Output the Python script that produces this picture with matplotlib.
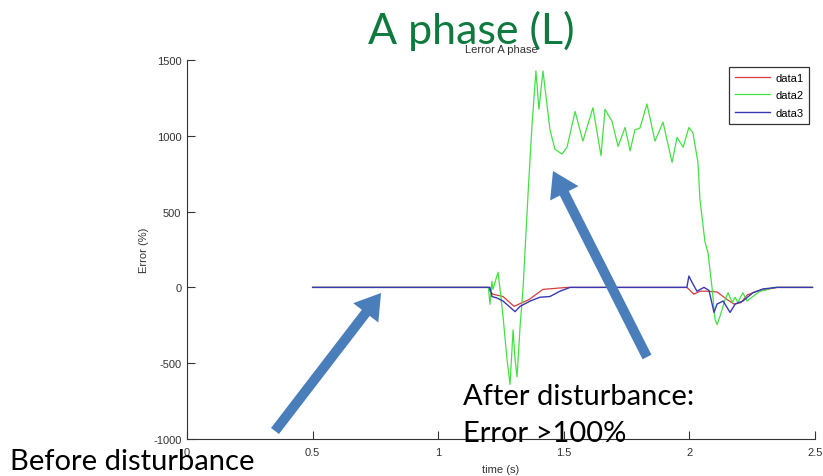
import matplotlib
matplotlib.use("Agg")
import matplotlib.pyplot as plt
from matplotlib.patches import FancyArrowPatch

# ---- data ----
t2 = [0.5, 1.200, 1.206, 1.214, 1.218, 1.238, 1.246, 1.258, 1.274, 1.286, 1.298, 1.306, 1.314,
      1.326, 1.338, 1.358, 1.373, 1.389, 1.401, 1.417, 1.445, 1.465, 1.493, 1.513, 1.545,
      1.576, 1.616, 1.648, 1.664, 1.692, 1.716, 1.744, 1.764, 1.783, 1.803, 1.831, 1.863,
      1.895, 1.931, 1.951, 1.975, 1.998, 2.014, 2.034, 2.042, 2.062, 2.074, 2.090, 2.102,
      2.110, 2.122, 2.142, 2.154, 2.170, 2.182, 2.193, 2.213, 2.229, 2.253, 2.281, 2.309,
      2.333, 2.49]
data2 = [0, 0, -112, 40, -13, 100, -10, -190, -475, -640, -280, -475, -590,
         -255, 0, 625, 1060, 1428, 1175, 1428, 1040, 910, 880, 925, 1160,
         965, 1185, 870, 1175, 1095, 930, 1055, 900, 1040, 1050, 1210, 965,
         1090, 825, 990, 925, 1055, 1020, 825, 580, 300, 230, 0, -210,
         -245, -190, -80, -35, -100, -65, -100, -35, -90, -60, -25, -15,
         0, 0]

t1 = [0.5, 1.202, 1.206, 1.218, 1.258, 1.302, 1.322, 1.362, 1.417, 1.513, 1.99, 2.018,
      2.042, 2.070, 2.110, 2.150, 2.178, 2.206, 2.230, 2.269, 2.349, 2.49]
data1 = [0, 0, -25, -45, -60, -125, -110, -80, -13, 0, 0, -45,
         -25, -25, -30, -80, -110, -100, -50, -25, 0, 0]

t3 = [0.5, 1.206, 1.214, 1.234, 1.258, 1.306, 1.326, 1.366, 1.405, 1.445, 1.485, 1.525,
      1.99, 1.998, 2.010, 2.030, 2.058, 2.078, 2.098, 2.110, 2.134, 2.162, 2.182, 2.213,
      2.253, 2.293, 2.349, 2.49]
data3 = [0, 0, -60, -70, -90, -160, -125, -90, -65, -60, -25, 0,
         0, 75, 35, -25, 0, -20, -165, -110, -90, -165, -110, -90,
         -35, -10, 0, 0]

xticks = [0, 0.5, 1, 1.5, 2, 2.5]
xticklabels = ["0", "0.5", "1", "1.5", "2", "2.5"]
yticks = [-1000, -500, 0, 500, 1000, 1500]
yticklabels = ["-1000", "-500", "0", "500", "1000", "1500"]
series_labels = ["data1", "data2", "data3"]

W, H = 823, 477
fig = plt.figure(figsize=(W / 100, H / 100), dpi=100)
ax = fig.add_axes([187 / W, 1 - 440 / H, (815 - 187) / W, (440 - 61) / H])

ax.plot(t1, data1, color="#d83c3c", lw=0.9, label=series_labels[0])
ax.plot(t2, data2, color="#44e044", lw=0.9, label=series_labels[1])
ax.plot(t3, data3, color="#3838b4", lw=1.0, label=series_labels[2])

ax.set_xlim(0, 2.5)
ax.set_ylim(-1000, 1500)
ax.set_xticks(xticks)
ax.set_xticklabels(xticklabels)
ax.set_yticks(yticks)
ax.set_yticklabels(yticklabels)
ax.tick_params(direction="in", length=6, width=0.8, labelsize=8, labelcolor="#333333",
               colors="#333333")
ax.tick_params(axis="x", pad=6)
ax.tick_params(axis="y", pad=4)
for lbl in ax.get_xticklabels() + ax.get_yticklabels():
    lbl.set_fontfamily("Liberation Sans")
for s in ["top", "right"]:
    ax.spines[s].set_visible(False)
for s in ["left", "bottom"]:
    ax.spines[s].set_color("#333333")
    ax.spines[s].set_linewidth(0.8)

ax.set_xlabel("time (s)", fontsize=8, family="Liberation Sans", color="#333333", labelpad=5)
ax.set_ylabel("Error (%)", fontsize=8, family="Liberation Sans", color="#333333", labelpad=3)
ax.set_title("Lerror A phase", fontsize=8, family="Liberation Sans", color="#333333", pad=6)

leg = ax.legend(loc="upper right",
                prop={"family": "Liberation Sans", "size": 8},
                frameon=True, fancybox=False, edgecolor="black", handlelength=3.2,
                borderpad=0.5, labelspacing=0.7, handletextpad=0.45, borderaxespad=0.0)
leg.set_bbox_to_anchor(((809 - 187) / (815 - 187), 1 - (68 - 61) / (440 - 61)), transform=ax.transAxes)
leg.get_frame().set_linewidth(0.9)

# big slide title
fig.text(471 / W, 1 - 31 / H, "A phase (L)", fontsize=31, color="#0e7a3e",
         family="Lato", ha="center", va="center")

# annotation texts
fig.text(10 / W, 1 - 462 / H, "Before disturbance", fontsize=21, family="Lato",
         ha="left", va="center", color="black")
fig.text(463 / W, 1 - 397 / H, "After disturbance:", fontsize=21, family="Lato",
         ha="left", va="center", color="black")
fig.text(463 / W, 1 - 434 / H, "Error >100%", fontsize=21, family="Lato",
         ha="left", va="center", color="black")

# arrows
arrow_color = "#4a7ebb"
for (x0, y0), (x1, y1) in [((275, 432), (381, 294)), ((647, 358), (553, 172))]:
    a = FancyArrowPatch((x0 / W, 1 - y0 / H), (x1 / W, 1 - y1 / H),
                        transform=fig.transFigure,
                        arrowstyle="simple,head_width=1.9,head_length=1.5,tail_width=0.6",
                        mutation_scale=12, color=arrow_color, lw=0, shrinkA=0, shrinkB=0)
    fig.add_artist(a)

fig.savefig("out.png", dpi=100)
